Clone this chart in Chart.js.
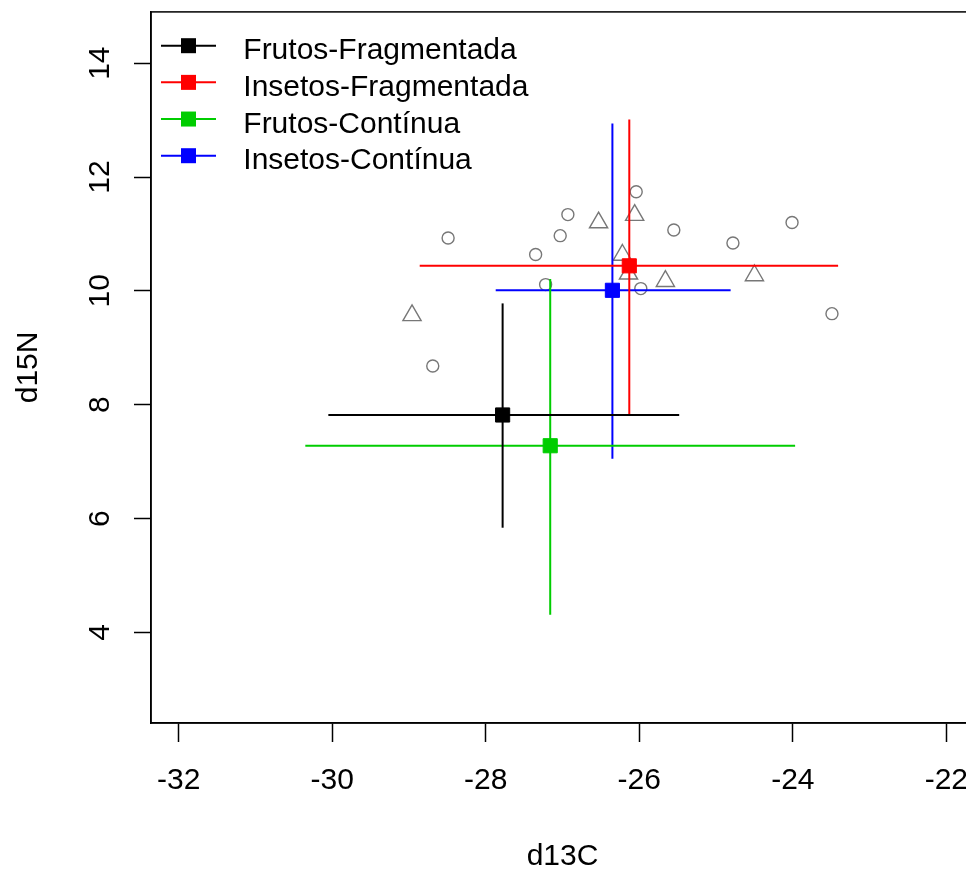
<!DOCTYPE html>
<html><head><meta charset="utf-8">
<script src="https://cdn.jsdelivr.net/npm/chart.js@4.4.1/dist/chart.umd.min.js"></script>
<style>
html,body{margin:0;padding:0;background:#fff;overflow:hidden;width:966px;height:871px}
#wrap{position:absolute;left:0;top:0;width:1000px;height:871px}
</style>
</head><body><div id="wrap"><canvas id="c" width="1000" height="871"></canvas></div>
<script>
// ---- data ----
const groups = ['Frutos-Fragmentada', 'Insetos-Fragmentada', 'Frutos-Contínua', 'Insetos-Contínua'];
const meanX = [-27.78, -26.13, -27.16, -26.35];
const meanY = [7.82, 10.44, 7.28, 10.01];
const xLow  = [-30.05, -28.86, -30.35, -27.87];
const xHigh = [-25.48, -23.41, -23.97, -24.81];
const yLow  = [5.84, 7.82, 4.31, 7.05];
const yHigh = [9.78, 13.01, 10.21, 12.94];

const circleX = [-28.49, -28.69, -27.35, -27.03, -26.93, -27.22, -26.04, -25.55, -25.98, -24.78, -24.01, -23.49];
const circleY = [10.93, 8.68, 10.64, 10.97, 11.34, 10.11, 11.74, 11.07, 10.04, 10.84, 11.20, 9.60];
const triX = [-28.96, -26.53, -26.06, -26.22, -26.14, -25.66, -24.50];
const triY = [9.57, 11.20, 11.33, 10.63, 10.30, 10.17, 10.27];

const xTicks = [-32, -30, -28, -26, -24, -22];
const yTicks = [4, 6, 8, 10, 12, 14];
const xTitle = 'd13C';
const yTitle = 'd15N';

// ---- style ----
const groupColors = ['#000000', '#FF0000', '#00CD00', '#0000FF'];
const FONT = '"Liberation Sans", Arial, sans-serif';
const GRAY = '#777777';

const datasets = [];
groups.forEach((g, i) => {
  datasets.push({
    label: g, data: [{x: meanX[i], y: meanY[i]}],
    pointStyle: 'rect', pointRadius: 10, borderWidth: 1,
    backgroundColor: groupColors[i], borderColor: groupColors[i], order: 0
  });
  datasets.push({
    label: g + ' h', data: [{x: xLow[i], y: meanY[i]}, {x: xHigh[i], y: meanY[i]}],
    showLine: true, pointRadius: 0, borderWidth: 2, borderColor: groupColors[i], order: 1
  });
  datasets.push({
    label: g + ' v', data: [{x: meanX[i], y: yLow[i]}, {x: meanX[i], y: yHigh[i]}],
    showLine: true, pointRadius: 0, borderWidth: 2, borderColor: groupColors[i], order: 1
  });
});
datasets.push({
  label: 'circles', data: circleX.map((x, i) => ({x, y: circleY[i]})),
  pointStyle: 'circle', pointRadius: 6, borderWidth: 1.4,
  borderColor: GRAY, backgroundColor: 'rgba(0,0,0,0)', order: 2
});
datasets.push({
  label: 'triangles', data: triX.map((x, i) => ({x, y: triY[i]})),
  pointStyle: 'triangle', pointRadius: 10.5, borderWidth: 1.4,
  borderColor: GRAY, backgroundColor: 'rgba(0,0,0,0)', order: 2
});

const framePlugin = {
  id: 'frame',
  afterDraw(chart) {
    const ctx = chart.ctx, a = chart.chartArea;
    ctx.save();
    ctx.strokeStyle = '#000';
    ctx.lineWidth = 1.5;
    ctx.strokeRect(a.left, a.top, a.right - a.left, a.bottom - a.top);
    // axis titles
    ctx.fillStyle = '#000';
    ctx.font = '30px ' + FONT;
    ctx.textAlign = 'center';
    ctx.textBaseline = 'alphabetic';
    ctx.fillText(xTitle, (a.left + a.right) / 2, 865);
    ctx.save();
    ctx.translate(37, (a.top + a.bottom) / 2);
    ctx.rotate(-Math.PI / 2);
    ctx.fillText(yTitle, 0, 0);
    ctx.restore();
    // legend
    const rowY0 = 45.7, rowStep = 36.67;
    groups.forEach((g, i) => {
      const y = rowY0 + i * rowStep;
      ctx.strokeStyle = groupColors[i];
      ctx.lineWidth = 2;
      ctx.beginPath(); ctx.moveTo(161, y); ctx.lineTo(216, y); ctx.stroke();
      ctx.fillStyle = groupColors[i];
      ctx.fillRect(188.5 - 7.5, y - 7.5, 15, 15);
      ctx.fillStyle = '#000';
      ctx.textAlign = 'left';
      ctx.fillText(g, 243.3, y + 13.6);
    });
    ctx.restore();
  }
};

new Chart(document.getElementById('c'), {
  type: 'scatter',
  data: { datasets },
  options: {
    responsive: false, animation: false,
    layout: { padding: { top: 9, right: 26, left: 0, bottom: 0 } },
    plugins: { legend: { display: false }, tooltip: { enabled: false } },
    scales: {
      x: {
        type: 'linear', min: -32.36, max: -21.64,
        afterBuildTicks: s => { s.ticks = xTicks.map(v => ({ value: v })); },
        afterFit: s => { s.height = 148; s.paddingLeft = 0; s.paddingRight = 0; },
        grid: { drawOnChartArea: false, drawTicks: true, tickLength: 19, tickWidth: 1.5, tickColor: '#000' },
        border: { display: true, color: '#000', width: 1.5 },
        ticks: { autoSkip: false, maxRotation: 0, minRotation: 0, padding: 21, color: '#000',
                 font: { family: FONT, size: 30 } }
      },
      y: {
        type: 'linear', min: 2.41, max: 14.90,
        afterBuildTicks: s => { s.ticks = yTicks.map(v => ({ value: v })); },
        afterFit: s => { s.width = 151; s.paddingTop = 0; s.paddingBottom = 0; },
        grid: { drawOnChartArea: false, drawTicks: true, tickLength: 17, tickWidth: 1.5, tickColor: '#000' },
        border: { display: true, color: '#000', width: 1.5 },
        ticks: { autoSkip: false, minRotation: 90, maxRotation: 90, crossAlign: 'center', padding: 16.6,
                 color: '#000', font: { family: FONT, size: 30 } }
      }
    }
  },
  plugins: [framePlugin]
});
</script>
</body></html>
